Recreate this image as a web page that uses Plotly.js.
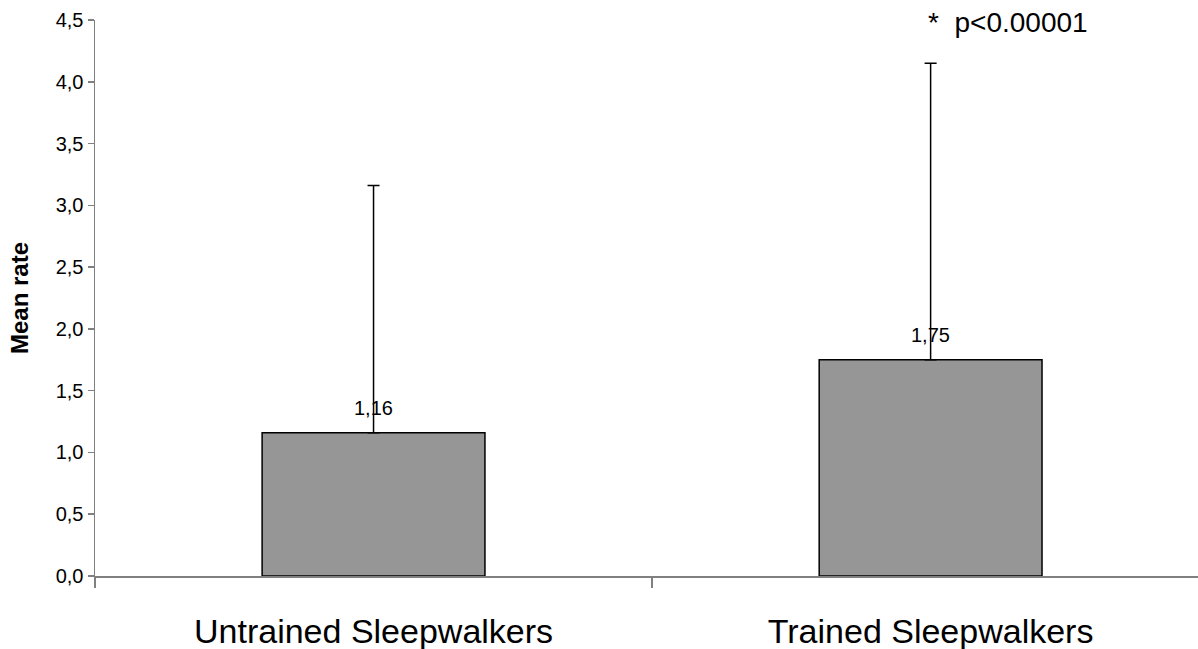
<!DOCTYPE html>
<html>
<head>
<meta charset="utf-8">
<script src="https://cdn.plot.ly/plotly-3.0.1.min.js"></script>
<style>html,body{margin:0;padding:0;background:#fff;}#chart{width:1198px;height:649px;}</style>
</head>
<body>
<div id="chart"></div>
<script>
const categories = ["Untrained Sleepwalkers", "Trained Sleepwalkers"];
const meanRate = [1.16, 1.75];
const errorPlus = [2.0, 2.4];
const yTickVals = [0, 0.5, 1, 1.5, 2, 2.5, 3, 3.5, 4, 4.5];
const significanceText = "*  p<0.00001";

const fontFam = '"Liberation Sans", Arial, sans-serif';

const trace = {
  type: 'bar',
  x: categories,
  y: meanRate,
  width: 0.4,
  marker: {color: '#969696', line: {color: '#000000', width: 1.5}},
  error_y: {
    type: 'data', symmetric: false,
    array: errorPlus, arrayminus: meanRate.map(() => 0),
    color: '#000000', thickness: 1.5, width: 6
  },
  hoverinfo: 'skip'
};

const valueLabels = categories.map((c, i) => ({
  x: c, y: meanRate[i], xref: 'x', yref: 'y',
  text: meanRate[i].toFixed(2).replace('.', ','),
  showarrow: false, yanchor: 'bottom', yshift: 12,
  font: {family: fontFam, size: 20, color: '#000'}
}));

const layout = {
  width: 1198, height: 649,
  margin: {l: 95, r: 0, t: 20, b: 73},
  paper_bgcolor: '#fff', plot_bgcolor: '#fff',
  separators: ',.',
  showlegend: false,
  font: {family: fontFam, color: '#000'},
  xaxis: {
    type: 'category',
    range: [-0.5, 1.48],
    tickson: 'boundaries',
    ticks: 'outside', ticklen: 10, tickcolor: '#808080', tickwidth: 1.5,
    showline: true, linecolor: '#808080', linewidth: 1.5,
    showgrid: false, zeroline: false,
    ticklabelstandoff: 25,
    tickfont: {family: fontFam, size: 34, color: '#000'}
  },
  yaxis: {
    range: [0, 4.5],
    tickvals: yTickVals,
    tickformat: '.1f',
    ticks: 'outside', ticklen: 6, tickcolor: '#808080', tickwidth: 1.5,
    showline: true, linecolor: '#808080', linewidth: 1.5,
    showgrid: false, zeroline: false,
    tickfont: {family: fontFam, size: 20, color: '#000'},
    title: {text: '<b>Mean rate</b>', font: {family: fontFam, size: 24, color: '#000'}, standoff: 20}
  },
  annotations: valueLabels.concat([{
    x: categories[1], y: 4.5, xref: 'x', yref: 'y',
    text: significanceText, showarrow: false,
    xanchor: 'left', yanchor: 'middle', xshift: -5, yshift: -2,
    font: {family: fontFam, size: 28, color: '#000'}
  }])
};

Plotly.newPlot('chart', [trace], layout, {displayModeBar: false, staticPlot: true});
</script>
</body>
</html>
